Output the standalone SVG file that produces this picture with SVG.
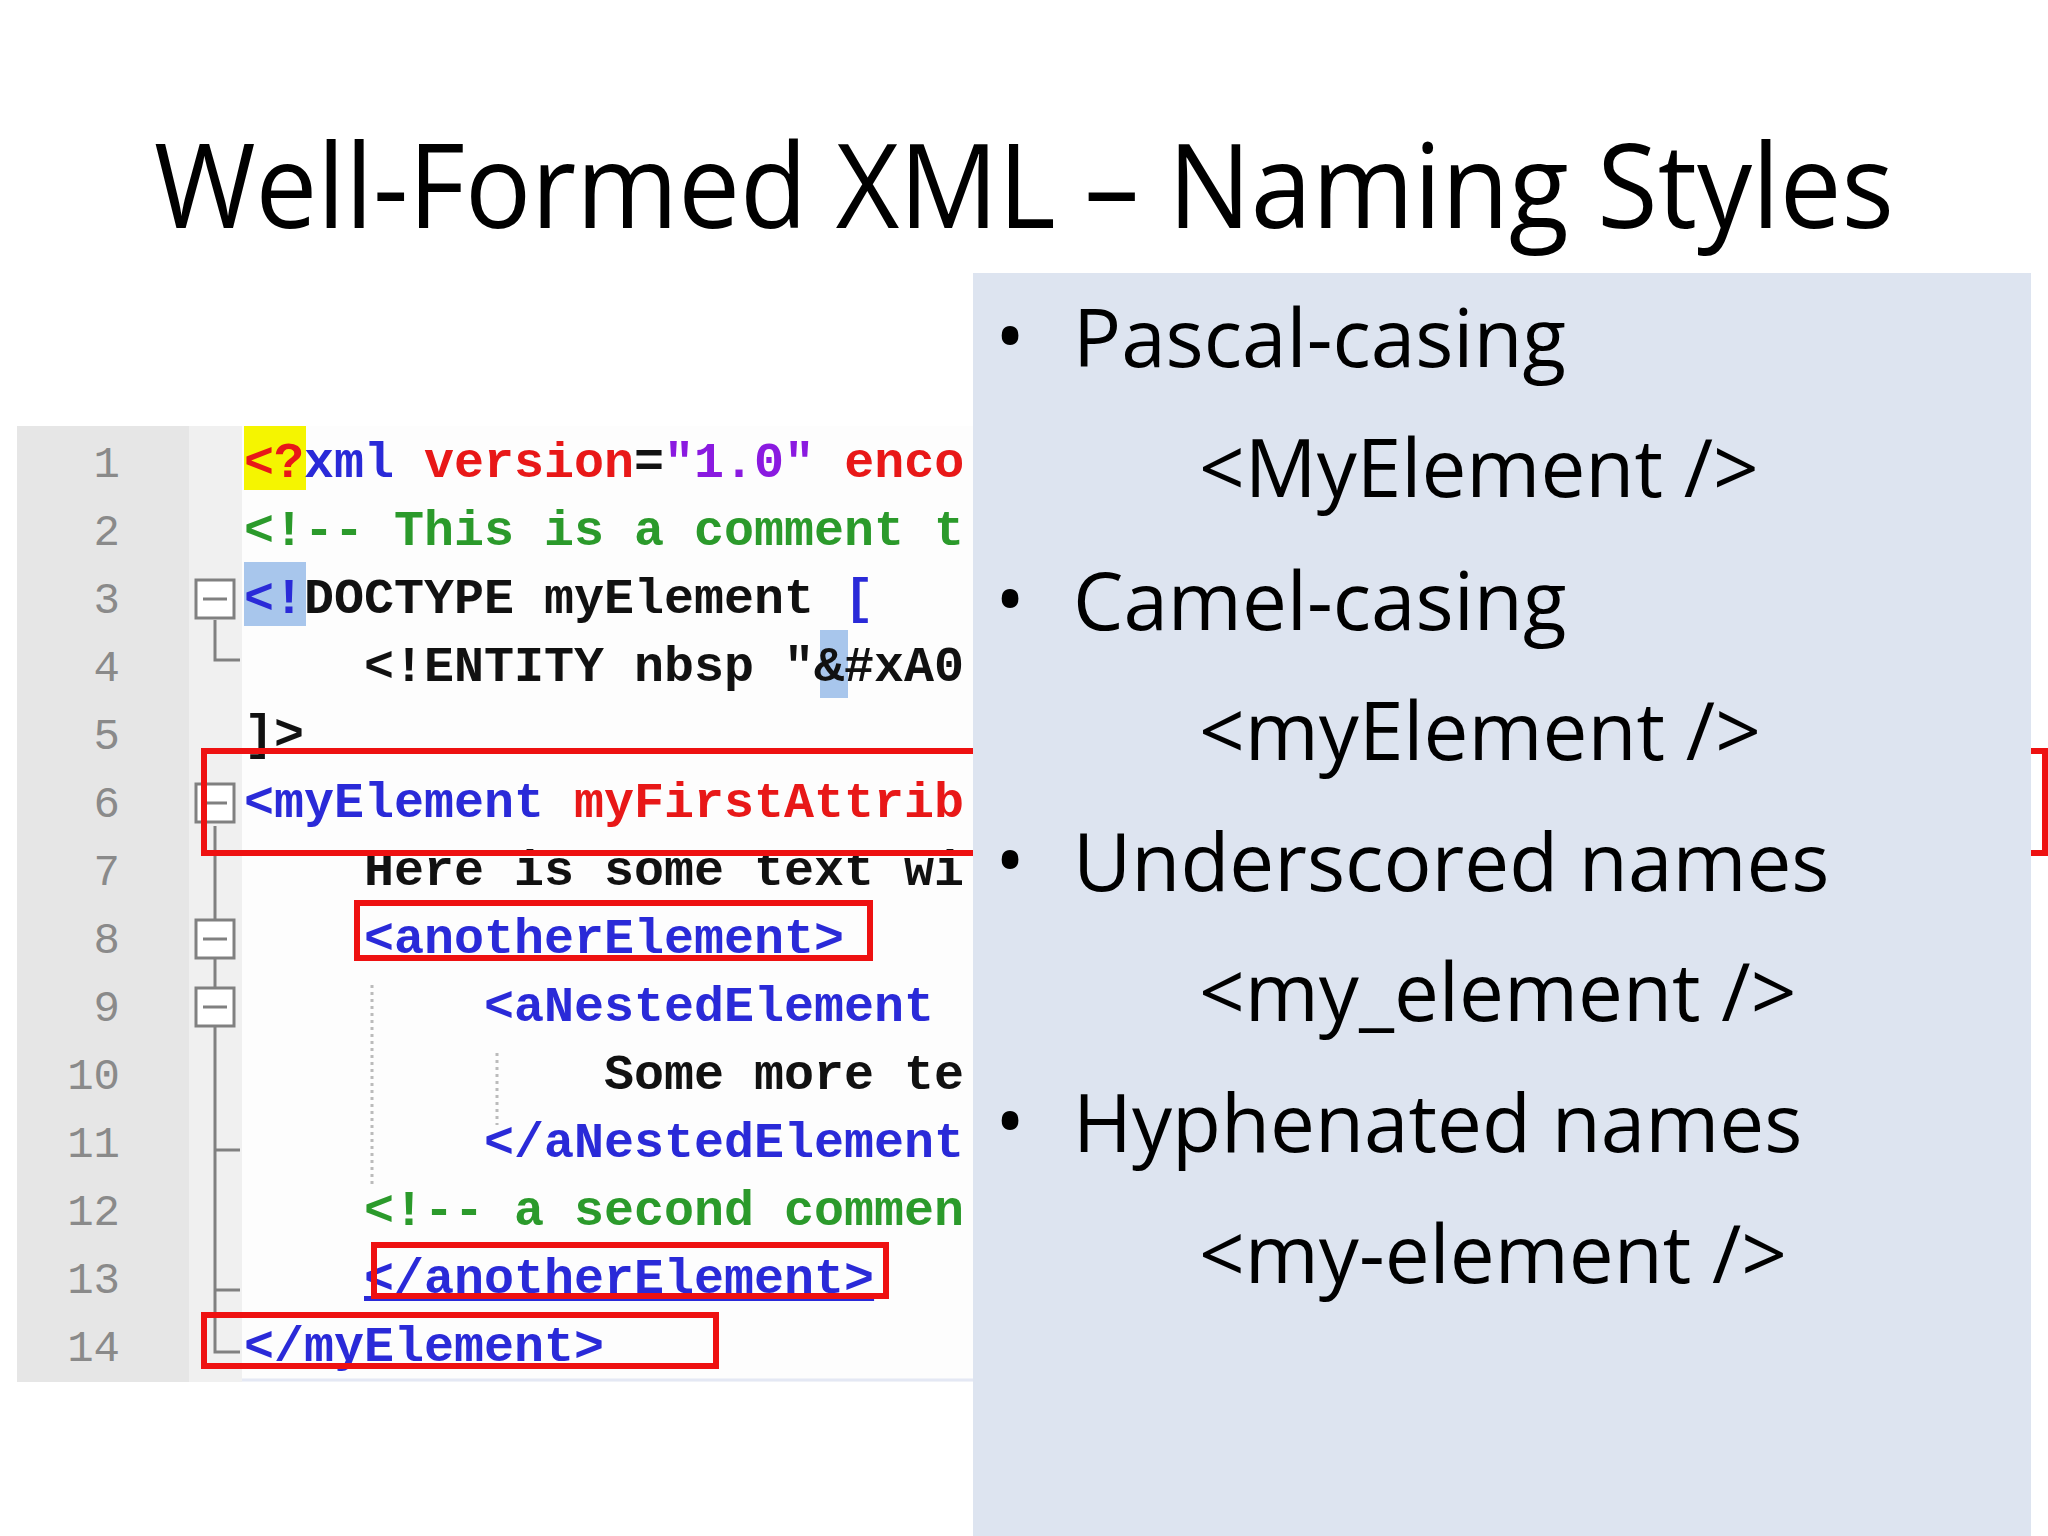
<svg xmlns="http://www.w3.org/2000/svg" width="2048" height="1536" viewBox="0 0 2048 1536">
<style>
.c{font-family:"Liberation Mono",monospace;font-size:50px;font-weight:bold;white-space:pre}
.n{font-family:"Liberation Mono",monospace;font-size:44px;fill:#8a8a8a;text-anchor:end}
.b{font-family:"Open Sans","Noto Sans",sans-serif;font-size:80px;fill:#000}
.r{fill:none;stroke:#ee1111;stroke-width:6}
.f{fill:#fff;stroke:#808080;stroke-width:3}
.bl{fill:#2a2ad8}.rd{fill:#e81818}.pu{fill:#8a1ae0}.gr{fill:#2b9a2b}.bk{fill:#111}
</style>
<defs><clipPath id="cl"><rect x="0" y="400" width="973" height="1000"/></clipPath></defs>
<rect width="2048" height="1536" fill="#fff"/>
<text x="1024" y="228" text-anchor="middle" font-family="'Open Sans','Noto Sans',sans-serif" font-size="118" textLength="1740" lengthAdjust="spacingAndGlyphs">Well-Formed XML – Naming Styles</text>
<g id="code">
<rect x="17" y="426" width="980" height="956" fill="#fdfdfd"/>
<rect x="17" y="426" width="172" height="956" fill="#e6e6e6"/>
<rect x="189" y="426" width="53" height="956" fill="#f0f0f0"/>
<line x1="242" y1="1380" x2="973" y2="1380" stroke="#e4e8f4" stroke-width="3"/>
<g>
<text class="n" x="120" y="477">1</text><text class="n" x="120" y="545">2</text><text class="n" x="120" y="613">3</text><text class="n" x="120" y="681">4</text><text class="n" x="120" y="749">5</text><text class="n" x="120" y="817">6</text><text class="n" x="120" y="885">7</text><text class="n" x="120" y="953">8</text><text class="n" x="120" y="1021">9</text><text class="n" x="120" y="1089">10</text><text class="n" x="120" y="1157">11</text><text class="n" x="120" y="1225">12</text><text class="n" x="120" y="1293">13</text><text class="n" x="120" y="1361">14</text>
</g>
<g stroke="#808080" stroke-width="3" fill="none">
<path d="M215 620 V660 H240"/>
<path d="M215 826 V1352 H240"/>
<path d="M215 1150 H240 M215 1290 H240"/>
<path d="M372 985 V1185 M497 1053 V1125" stroke="#bbb" stroke-dasharray="3 4"/>
</g>
<rect class="f" x="196" y="580" width="38" height="38"/>
<rect class="f" x="196" y="784" width="38" height="38"/>
<rect class="f" x="196" y="920" width="38" height="38"/>
<rect class="f" x="196" y="988" width="38" height="38"/>
<path d="M203 599h24M203 803h24M203 939h24M203 1007h24" stroke="#808080" stroke-width="3"/>
<rect x="244" y="426" width="62" height="64" fill="#f5f500"/>
<rect x="244" y="562" width="62" height="64" fill="#a8c6ec"/>
<rect x="820" y="630" width="28" height="68" fill="#a8c6ec"/>
<g clip-path="url(#cl)">
<text class="c" y="477"><tspan x="244" class="rd">&lt;?</tspan><tspan class="bl">xml </tspan><tspan class="rd">version</tspan><tspan class="bk">=</tspan><tspan class="pu">"1.0" </tspan><tspan class="rd">enco</tspan></text>
<text class="c gr" x="244" y="545">&lt;!-- This is a comment t</text>
<text class="c bk" x="244" y="613"><tspan class="bl">&lt;!</tspan>DOCTYPE myElement <tspan class="bl">[</tspan></text>
<text class="c bk" x="364" y="681">&lt;!ENTITY nbsp "&amp;#xA0</text>
<text class="c bk" x="244" y="749">]&gt;</text>
<text class="c" x="244" y="817"><tspan class="bl">&lt;myElement </tspan><tspan class="rd">myFirstAttrib</tspan></text>
<text class="c bk" x="364" y="885">Here is some text wi</text>
<text class="c bl" x="364" y="953" text-decoration="underline">&lt;anotherElement&gt;</text>
<text class="c bl" x="484" y="1021">&lt;aNestedElement</text>
<text class="c bk" x="604" y="1089">Some more te</text>
<text class="c bl" x="484" y="1157">&lt;/aNestedElement</text>
<text class="c gr" x="364" y="1225">&lt;!-- a second commen</text>
<text class="c bl" x="364" y="1293" text-decoration="underline">&lt;/anotherElement&gt;</text>
<text class="c bl" x="244" y="1361" text-decoration="underline">&lt;/myElement&gt;</text>
</g>
<rect class="r" x="204" y="751" width="900" height="102"/>
<rect class="r" x="357" y="903" width="513" height="55"/>
<rect class="r" x="374" y="1245" width="512" height="51"/>
<rect class="r" x="204" y="1315" width="512" height="51"/>
</g>
<g id="panel">
<rect x="973" y="273" width="1058" height="1263" fill="#dde4f0"/>
<path d="M2031 751 H2050 M2031 853 H2050 M2045 751 V853" stroke="#ee1111" stroke-width="6" fill="none"/>
<text class="b" x="995" y="365">•</text><text class="b" x="1073" y="367">Pascal-casing</text>
<text class="b" x="1199" y="497">&lt;MyElement /&gt;</text>
<text class="b" x="995" y="628">•</text><text class="b" x="1073" y="630">Camel-casing</text>
<text class="b" x="1199" y="760">&lt;myElement /&gt;</text>
<text class="b" x="995" y="889">•</text><text class="b" x="1073" y="891">Underscored names</text>
<text class="b" x="1199" y="1021">&lt;my_element /&gt;</text>
<text class="b" x="995" y="1150">•</text><text class="b" x="1073" y="1152">Hyphenated names</text>
<text class="b" x="1199" y="1283">&lt;my-element /&gt;</text>
</g>
</svg>
